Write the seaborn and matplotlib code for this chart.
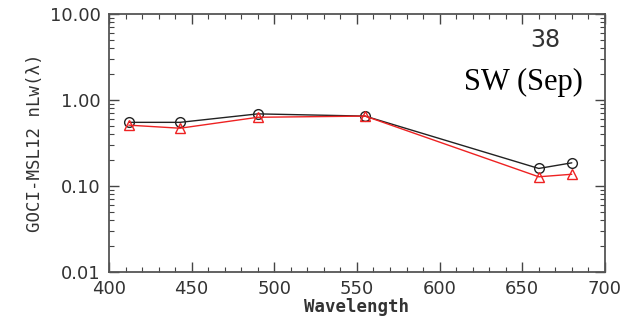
import numpy as np
import pandas as pd
import matplotlib
matplotlib.use("Agg")
import matplotlib.pyplot as plt
import seaborn as sns
from matplotlib.ticker import FixedLocator, LogLocator, MultipleLocator, NullFormatter

sns.set_style("ticks")

# Datos
wavelength = [412, 443, 490, 555, 660, 680]
nlw_black = [0.55, 0.55, 0.69, 0.65, 0.16, 0.186]
nlw_red = [0.51, 0.47, 0.63, 0.65, 0.128, 0.137]
ytick_vals = [0.01, 0.1, 1.0, 10.0]
ytick_labels = ["0.01", "0.10", "1.00", "10.00"]
xtick_vals = [400, 450, 500, 550, 600, 650, 700]

df = pd.DataFrame({
    "Wavelength": wavelength * 2,
    "nLw": nlw_black + nlw_red,
    "serie": ["negro"] * 6 + ["rojo"] * 6,
})

fig = plt.figure(figsize=(6.21, 3.26), dpi=100)
ax = fig.add_axes([0.1755, 0.1656, 0.7985, 0.7914])

sns.lineplot(data=df[df["serie"] == "negro"], x="Wavelength", y="nLw", ax=ax,
             color="#222222", lw=1.0, marker="o", ms=7, mfc="none", mec="#222222", mew=1.0)
sns.lineplot(data=df[df["serie"] == "rojo"], x="Wavelength", y="nLw", ax=ax,
             color="#ee2222", lw=1.0, marker="^", ms=7, mfc="none", mec="#ee2222", mew=1.0)

ax.set_yscale("log")
ax.set_xlim(400, 700)
ax.set_ylim(0.01, 10)

ax.yaxis.set_major_locator(FixedLocator(ytick_vals))
ax.set_yticklabels(ytick_labels)
ax.yaxis.set_minor_locator(LogLocator(base=10, subs=np.arange(2, 10)))
ax.yaxis.set_minor_formatter(NullFormatter())
ax.xaxis.set_major_locator(FixedLocator(xtick_vals))
ax.xaxis.set_minor_locator(MultipleLocator(10))

ax.tick_params(which="both", direction="in", top=True, right=True, color="#444444")
ax.tick_params(which="major", length=7, width=1)
ax.tick_params(which="minor", length=3.5, width=0.8)
ax.tick_params(axis="both", labelsize=13, labelcolor="#333333", pad=6)
for s in ax.spines.values():
    s.set_color("#555555")
    s.set_linewidth(1.3)

ax.set_xlabel("Wavelength", fontsize=12.5, color="#333333", labelpad=0,
              family="DejaVu Sans Mono", fontweight="bold")
ax.set_ylabel("GOCI-MSL12 nLw(λ)", fontsize=12.5, color="#333333", labelpad=4,
              family="DejaVu Sans Mono")

ax.text(0.88, 0.9, "38", transform=ax.transAxes, fontsize=17, color="#333333",
        ha="center", va="center")
ax.text(0.955, 0.735, "SW (Sep)", transform=ax.transAxes, fontsize=22, color="black",
        ha="right", va="center", family="Liberation Serif")

fig.savefig("out.png", dpi=100)
